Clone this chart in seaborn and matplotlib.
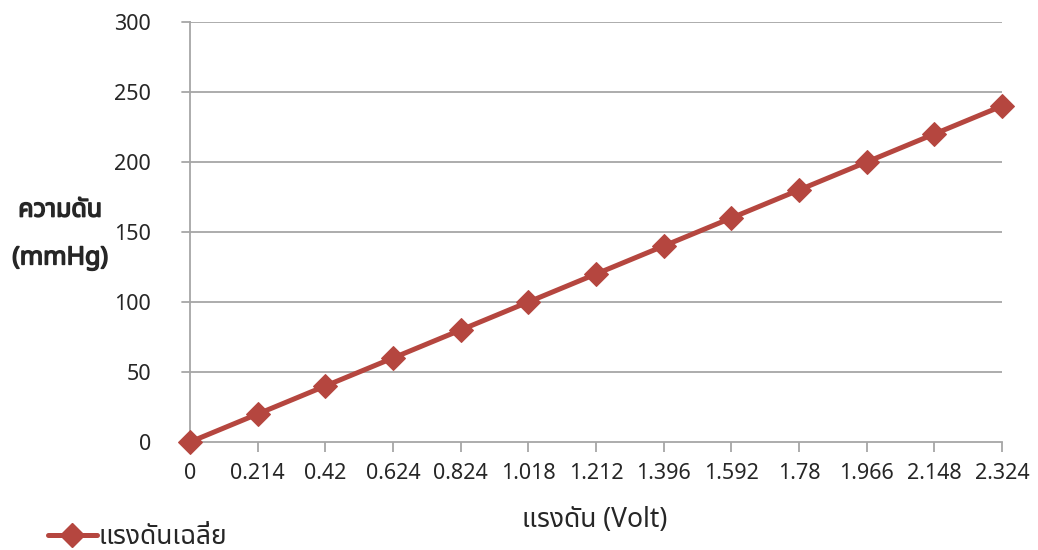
import matplotlib
matplotlib.use("Agg")
import matplotlib.pyplot as plt
import matplotlib.patheffects as pe
from matplotlib import font_manager
from matplotlib.ft2font import FT2Font
from matplotlib.lines import Line2D
import seaborn as sns
import pandas as pd

# Average sensor voltage (V) and matching pressure (mmHg)
volt_labels = ["0", "0.214", "0.42", "0.624", "0.824", "1.018", "1.212",
               "1.396", "1.592", "1.78", "1.966", "2.148", "2.324"]
pressure = [0, 20, 40, 60, 80, 100, 120, 140, 160, 180, 200, 220, 240]
y_ticks = [0, 50, 100, 150, 200, 250, 300]
series_name = "แรงดันเฉลี่ย"
x_title = "แรงดัน (Volt)"
y_title = "ความดัน\n(mmHg)"


def thai_family():
    """Pick an installed font that can draw Thai text."""
    preferred = ["Noto Sans Thai", "Noto Sans Thai UI", "Loma", "Garuda",
                 "Tlwg Typo", "Kinnari", "Norasi", "Sawasdee", "Umpush"]
    found = {}
    for f in font_manager.fontManager.ttflist:
        try:
            cmap = FT2Font(f.fname).get_charmap()
        except Exception:
            continue
        if 0x0E04 in cmap and 0x0E14 in cmap:
            found.setdefault(f.name, f.fname)
    for name in preferred:
        if name in found:
            return name
    return next(iter(found), None)


sns.set_theme(style="white")
thai = thai_family()
families = ([thai] if thai else []) + ["DejaVu Sans"]
plt.rcParams["font.family"] = families

df = pd.DataFrame({"volt": volt_labels, "pressure": pressure})
df["pos"] = range(len(df))

line_color = "#b5463f"
axis_color = "#a6a6a6"
text_color = "#262626"

fig = plt.figure(figsize=(10.38, 5.5), dpi=100)
ax = fig.add_axes([190 / 1038, 1 - 442 / 550, (1002 - 190) / 1038, (442 - 22) / 550])

sns.lineplot(data=df, x="pos", y="pressure", ax=ax, color=line_color,
             linewidth=3.6, marker="D", markersize=12,
             markerfacecolor=line_color, markeredgecolor=line_color,
             label=series_name, legend=False, zorder=3, clip_on=False)

ax.set_xlim(0, len(volt_labels) - 1)
ax.set_ylim(0, 300)
ax.set_xticks(df["pos"])
ax.set_xticklabels(volt_labels)
ax.set_yticks(y_ticks)
ax.set_yticklabels([str(v) for v in y_ticks])

for yv in y_ticks[1:]:
    ax.axhline(yv, color=axis_color, linewidth=1.3, zorder=1)
for yv in y_ticks:
    ax.plot([-0.12, 0], [yv, yv], color=axis_color, linewidth=1.3, clip_on=False)

for side in ["top", "right"]:
    ax.spines[side].set_visible(False)
for side in ["left", "bottom"]:
    ax.spines[side].set_color(axis_color)
    ax.spines[side].set_linewidth(1.3)

ax.tick_params(axis="x", direction="out", length=7, width=1.3, color=axis_color,
               labelsize=15.5, labelcolor=text_color, pad=8, bottom=True)
ax.tick_params(axis="y", length=0, labelsize=15.5, labelcolor=text_color, pad=28, left=False)

ax.set_xlabel("")
ax.set_ylabel("")
fig.text(595 / 1038, 1 - 520 / 550, x_title, ha="center", va="center",
         fontsize=19, color=text_color)
# the Thai face has no bold weight, so thicken the glyph outlines instead
fig.text(60 / 1038, 1 - 234 / 550, y_title, ha="center", va="center",
         fontsize=18, color=text_color, linespacing=2.2,
         path_effects=[pe.withStroke(linewidth=1.1, foreground=text_color)])

handle = Line2D([], [], color=line_color, linewidth=3.6, marker="D",
                markersize=12, markerfacecolor=line_color, markeredgecolor=line_color)
fig.legend([handle], [series_name], loc="center left",
           bbox_to_anchor=(48 / 1038, 1 - 537 / 550), frameon=False,
           fontsize=19, handlelength=1.85, handletextpad=0.05, borderaxespad=0,
           borderpad=0, labelcolor=text_color)

fig.savefig("out.png", dpi=100, facecolor="white")
